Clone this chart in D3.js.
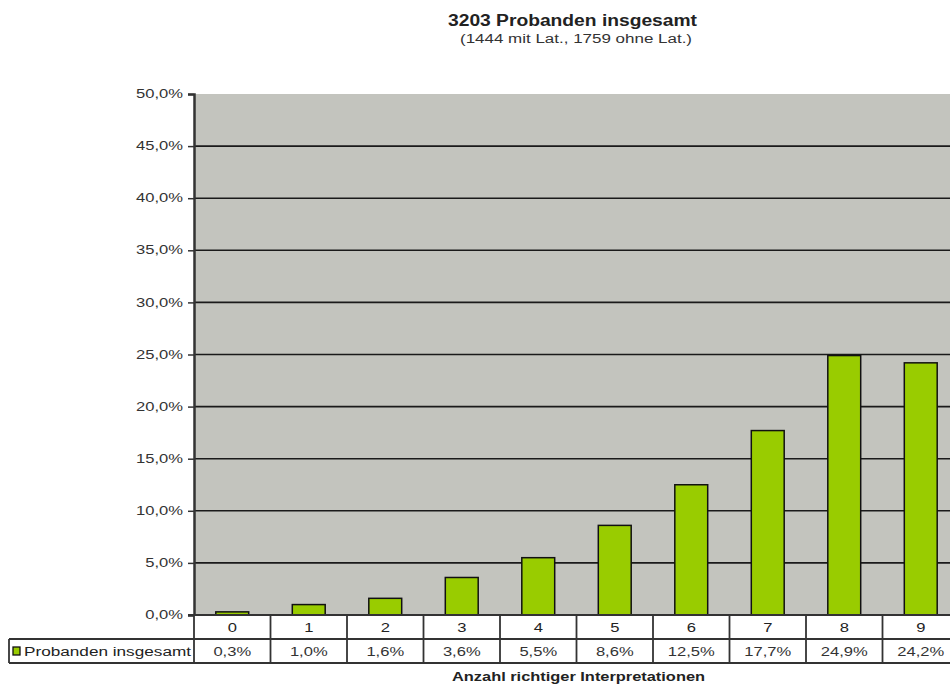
<!DOCTYPE html>
<html>
<head>
<meta charset="utf-8">
<script src="https://cdn.jsdelivr.net/npm/d3@7"></script>
<style>
  html, body { margin: 0; padding: 0; background: #ffffff; }
  svg { display: block; font-family: "Liberation Sans", Arial, sans-serif; }
</style>
</head>
<body>
<svg id="chart" width="950" height="686"></svg>
<script>
// ---- data ----
const categories = ["0", "1", "2", "3", "4", "5", "6", "7", "8", "9"];
const values = [0.3, 1.0, 1.6, 3.6, 5.5, 8.6, 12.5, 17.7, 24.9, 24.2];
const valueLabels = ["0,3%", "1,0%", "1,6%", "3,6%", "5,5%", "8,6%", "12,5%", "17,7%", "24,9%", "24,2%"];
const yTicks = [0, 5, 10, 15, 20, 25, 30, 35, 40, 45, 50];
const yTickLabels = ["0,0%", "5,0%", "10,0%", "15,0%", "20,0%", "25,0%", "30,0%", "35,0%", "40,0%", "45,0%", "50,0%"];
const seriesName = "Probanden insgesamt";
const titleText = "3203 Probanden insgesamt";
const subtitleText = "(1444 mit Lat., 1759 ohne Lat.)";
const xAxisTitle = "Anzahl richtiger Interpretationen";

// ---- layout ----
const plotLeft = 194, plotRight = 959, plotTop = 94, plotBottom = 615;
const row1Bottom = 639, row2Bottom = 663, legendLeft = 9;
const SX = 1.38; // horizontal stretch of the reference's text

const svg = d3.select("#chart");

const x = d3.scaleBand().domain(categories).range([plotLeft, plotRight])
  .paddingInner(0.57).paddingOuter(0.285);
const y = d3.scaleLinear().domain([0, 50]).range([plotBottom, plotTop]);

function stretchedText(parent, tx, ty, str, opts) {
  const g = parent.append("g").attr("transform", `translate(${tx},${ty}) scale(${opts.sx || SX},1)`);
  return g.append("text")
    .attr("text-anchor", opts.anchor || "middle")
    .attr("dominant-baseline", "central")
    .attr("font-size", opts.size || 12)
    .attr("font-weight", opts.weight || "normal")
    .attr("fill", opts.fill || "#222")
    .text(str);
}

// plot background
svg.append("rect").attr("x", plotLeft).attr("y", plotTop)
  .attr("width", plotRight - plotLeft).attr("height", plotBottom - plotTop)
  .attr("fill", "#c3c4be");

// gridlines
svg.append("g").selectAll("line").data(yTicks.filter(d => d > 0 && d < 50)).join("line")
  .attr("x1", plotLeft).attr("x2", plotRight)
  .attr("y1", d => y(d)).attr("y2", d => y(d))
  .attr("stroke", "#1a1a1a").attr("stroke-width", 1.6);

// bars
svg.append("g").selectAll("rect").data(values).join("rect")
  .attr("x", (d, i) => x(categories[i]))
  .attr("y", d => y(d))
  .attr("width", x.bandwidth())
  .attr("height", d => y(0) - y(d))
  .attr("fill", "#99cc00")
  .attr("stroke", "#111").attr("stroke-width", 1.5);

// y axis
const yAxis = d3.axisLeft(y).tickValues(yTicks).tickSize(6).tickFormat("");
const yg = svg.append("g").attr("transform", `translate(${plotLeft},0)`).call(yAxis);
yg.select(".domain").attr("stroke", "#333").attr("stroke-width", 2.5);
yg.selectAll(".tick line").attr("stroke", "#333").attr("stroke-width", 1.5);
yTicks.forEach((t, i) => {
  stretchedText(svg, 183, y(t), yTickLabels[i], { anchor: "end", size: 12, fill: "#333" });
});

// data table
const table = svg.append("g");
table.append("rect").attr("x", plotLeft).attr("y", plotBottom)
  .attr("width", plotRight - plotLeft).attr("height", row2Bottom - plotBottom)
  .attr("fill", "#fff");
const bounds = categories.map(c => x(c) - x.step() * x.paddingInner() / 2);
bounds.push(plotRight);
table.selectAll("line.v").data(bounds).join("line").attr("class", "v")
  .attr("x1", d => d).attr("x2", d => d)
  .attr("y1", plotBottom).attr("y2", row2Bottom)
  .attr("stroke", "#333").attr("stroke-width", 1.8);
table.append("line").attr("x1", legendLeft).attr("x2", plotRight)
  .attr("y1", row1Bottom).attr("y2", row1Bottom).attr("stroke", "#333").attr("stroke-width", 1.8);
table.append("line").attr("x1", legendLeft).attr("x2", plotRight)
  .attr("y1", row2Bottom).attr("y2", row2Bottom).attr("stroke", "#333").attr("stroke-width", 1.8);
table.append("line").attr("x1", legendLeft).attr("x2", legendLeft)
  .attr("y1", row1Bottom).attr("y2", row2Bottom).attr("stroke", "#333").attr("stroke-width", 1.8);
table.append("line").attr("x1", plotLeft - 6).attr("x2", plotRight)
  .attr("y1", plotBottom).attr("y2", plotBottom).attr("stroke", "#333").attr("stroke-width", 1.8);

categories.forEach((c, i) => {
  const cx = x(c) + x.bandwidth() / 2;
  stretchedText(table, cx, (plotBottom + row1Bottom) / 2 + 1, c, { size: 12, fill: "#222" });
  stretchedText(table, cx, (row1Bottom + row2Bottom) / 2 + 1, valueLabels[i], { size: 12, fill: "#333" });
});

// legend key in table
table.append("rect").attr("x", 13).attr("y", 647).attr("width", 7).attr("height", 8)
  .attr("fill", "#99cc00").attr("stroke", "#111").attr("stroke-width", 1.3);
table.append("text").attr("x", 24).attr("y", 652)
  .attr("dominant-baseline", "central").attr("font-size", 12).attr("fill", "#222")
  .attr("textLength", 167).attr("lengthAdjust", "spacingAndGlyphs")
  .text(seriesName);

// titles
const cxPlot = (plotLeft + plotRight) / 2;
svg.append("text").attr("x", cxPlot - 4).attr("y", 20).attr("text-anchor", "middle")
  .attr("dominant-baseline", "central").attr("font-size", 16).attr("font-weight", "bold")
  .attr("fill", "#222").attr("textLength", 249).attr("lengthAdjust", "spacingAndGlyphs")
  .text(titleText);
svg.append("text").attr("x", cxPlot - 0.5).attr("y", 39).attr("text-anchor", "middle")
  .attr("dominant-baseline", "central").attr("font-size", 12)
  .attr("fill", "#333").attr("textLength", 232).attr("lengthAdjust", "spacingAndGlyphs")
  .text(subtitleText);
svg.append("text").attr("x", cxPlot + 2).attr("y", 677).attr("text-anchor", "middle")
  .attr("dominant-baseline", "central").attr("font-size", 12).attr("font-weight", "bold")
  .attr("fill", "#222").attr("textLength", 253).attr("lengthAdjust", "spacingAndGlyphs")
  .text(xAxisTitle);
</script>
</body>
</html>
